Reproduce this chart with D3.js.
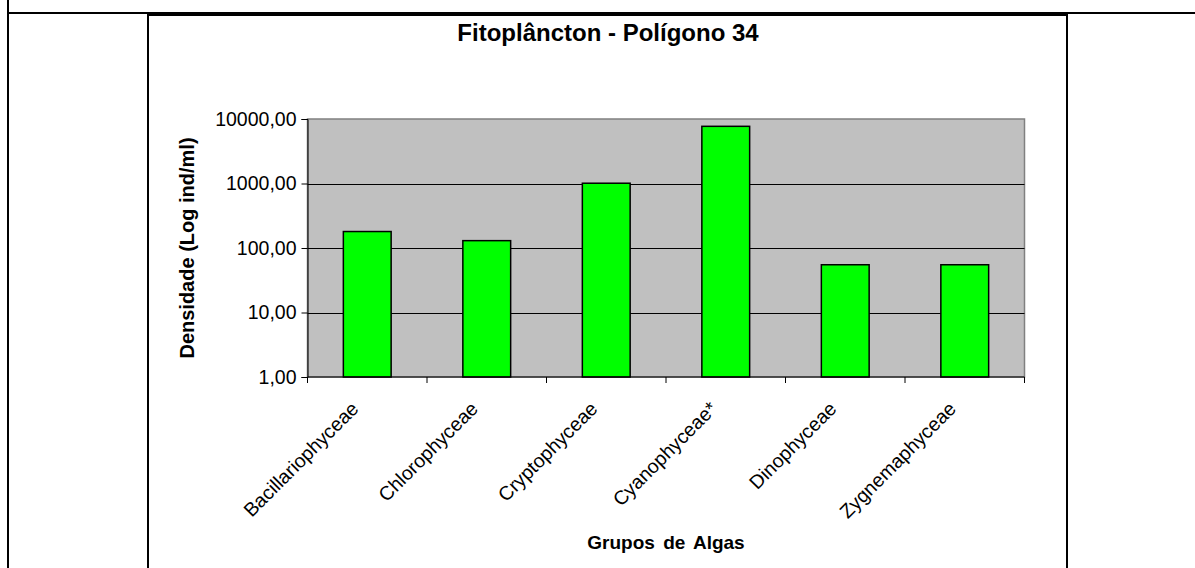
<!DOCTYPE html>
<html>
<head>
<meta charset="utf-8">
<script src="https://cdn.jsdelivr.net/npm/d3@7"></script>
<style>
  html, body { margin: 0; padding: 0; background: #fff; }
  svg { display: block; }
  text { font-family: "Liberation Sans", Arial, sans-serif; fill: #000; }
</style>
</head>
<body>
<svg id="chart" width="1195" height="568"></svg>
<script>
const categories = ["Bacillariophyceae", "Chlorophyceae", "Cryptophyceae", "Cyanophyceae*", "Dinophyceae", "Zygnemaphyceae"];
const densities = [180, 130, 1010, 7700, 55, 55];
const yTickValues = [1, 10, 100, 1000, 10000];
const yTickLabels = ["1,00", "10,00", "100,00", "1000,00", "10000,00"];
const chartTitle = "Fitoplâncton - Polígono 34";
const yTitle = "Densidade (Log ind/ml)";
const xTitle = "Grupos de Algas";

const svg = d3.select("#chart");
const W = 1195, H = 568;
const plot = { left: 307.5, right: 1024.5, top: 119, bottom: 377 };

// surrounding table borders
const borders = svg.append("g");
borders.append("rect").attr("x", 7).attr("y", 12).attr("width", W - 7).attr("height", 2).attr("fill", "#000");
borders.append("rect").attr("x", 147).attr("y", 12.5).attr("width", 921).attr("height", 3.5).attr("fill", "#000");
borders.append("rect").attr("x", 7).attr("y", 0).attr("width", 2).attr("height", H).attr("fill", "#000");
borders.append("rect").attr("x", 147).attr("y", 12).attr("width", 2).attr("height", H - 12).attr("fill", "#000");
borders.append("rect").attr("x", 1066).attr("y", 12).attr("width", 2).attr("height", H - 12).attr("fill", "#000");

const x = d3.scaleBand().domain(categories).range([plot.left, plot.right]).paddingInner(0.6).paddingOuter(0.3);
const y = d3.scaleLog().domain([1, 10000]).range([plot.bottom, plot.top]);

// plot background
svg.append("rect")
  .attr("x", plot.left).attr("y", plot.top)
  .attr("width", plot.right - plot.left).attr("height", plot.bottom - plot.top)
  .attr("fill", "#C0C0C0").attr("stroke", "#808080").attr("stroke-width", 1.5);

// gridlines
svg.append("g").selectAll("line").data(yTickValues.slice(1, -1)).join("line")
  .attr("x1", plot.left).attr("x2", plot.right)
  .attr("y1", d => Math.round(y(d)) + 0.5).attr("y2", d => Math.round(y(d)) + 0.5)
  .attr("stroke", "#000").attr("stroke-width", 1);

// bars
svg.append("g").selectAll("rect").data(categories).join("rect")
  .attr("x", d => x(d))
  .attr("width", x.bandwidth())
  .attr("y", (d, i) => y(densities[i]))
  .attr("height", (d, i) => plot.bottom - y(densities[i]))
  .attr("fill", "#00FF00").attr("stroke", "#000").attr("stroke-width", 1.5);

// y axis
const yAxis = d3.axisLeft(y).tickValues(yTickValues)
  .tickFormat((d, i) => yTickLabels[i]).tickSizeOuter(0).tickSize(6).tickPadding(5);
const gy = svg.append("g").attr("transform", `translate(${plot.left},0)`).call(yAxis);
gy.select(".domain").attr("stroke", "#000");
gy.selectAll(".tick line").attr("stroke", "#000");
gy.selectAll(".tick text").attr("font-size", 19.5).attr("font-family", "Liberation Sans, Arial, sans-serif");

// x axis: ticks at category boundaries
const step = x.step();
const boundaries = d3.range(categories.length + 1).map(i => plot.left + i * step);
svg.append("line").attr("x1", plot.left).attr("x2", plot.right)
  .attr("y1", plot.bottom).attr("y2", plot.bottom).attr("stroke", "#000");
svg.append("g").selectAll("line").data(boundaries).join("line")
  .attr("x1", d => d).attr("x2", d => d)
  .attr("y1", plot.bottom).attr("y2", plot.bottom + 6)
  .attr("stroke", "#000");

// rotated category labels
svg.append("g").selectAll("text").data(categories).join("text")
  .attr("transform", d => `translate(${x(d) + x.bandwidth() / 2 - 7.5},${plot.bottom + 33}) rotate(-45)`)
  .attr("text-anchor", "end")
  .attr("font-size", 19.5)
  .text(d => d);

// titles
svg.append("text").attr("x", 608).attr("y", 41).attr("text-anchor", "middle")
  .attr("font-size", 24).attr("font-weight", "bold").text(chartTitle);

svg.append("text").attr("transform", `translate(194,${(plot.top + plot.bottom) / 2}) rotate(-90)`)
  .attr("text-anchor", "middle").attr("font-size", 20).attr("font-weight", "bold").text(yTitle);

svg.append("text").attr("x", (plot.left + plot.right) / 2).attr("y", 549).attr("text-anchor", "middle")
  .attr("font-size", 19).attr("font-weight", "bold").attr("word-spacing", 3).text(xTitle);
</script>
</body>
</html>
